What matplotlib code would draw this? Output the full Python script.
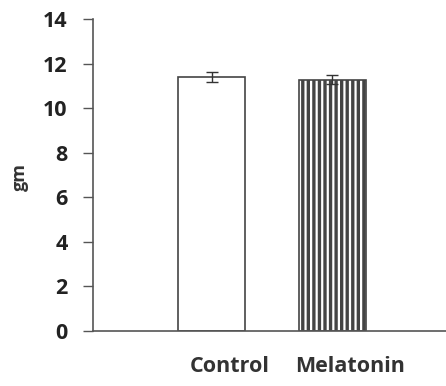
import matplotlib
matplotlib.use("Agg")
import matplotlib.pyplot as plt
import matplotlib.transforms as mtransforms
import numpy as np

categories = ["Control", "Melatonin"]
values = [11.4, 11.3]
errors = [0.22, 0.2]
yticks = [0, 2, 4, 6, 8, 10, 12, 14]

plt.rcParams['font.family'] = ['Open Sans', 'DejaVu Sans']
plt.rcParams['hatch.linewidth'] = 2.4
plt.rcParams['hatch.color'] = '#000000'

fig = plt.figure(figsize=(4.46, 3.86), dpi=100)
ax = fig.add_axes([0.2074, 0.1425, 0.7926, 0.807])

x = np.arange(len(categories))
hatches = ['', '|||']
for i in range(len(categories)):
    ax.bar(x[i], values[i], width=0.56, color='white', edgecolor='#444444',
           linewidth=1.2, hatch=hatches[i], zorder=2)
    ax.errorbar(x[i], values[i], yerr=errors[i], fmt='none', ecolor='#333333',
                elinewidth=1.0, capsize=4, capthick=1.0, zorder=3)

ax.set_xlim(-0.985, 1.94)
ax.set_ylim(0, 14)
ax.set_yticks(yticks)
ax.set_yticklabels([str(t) for t in yticks], fontsize=15.5, fontweight='bold', color='#222222')
ax.set_xticks(x)
ax.set_xticklabels(categories, fontsize=15.5, fontweight='bold', color='#333333')
ax.tick_params(axis='x', length=0, pad=18)
ax.tick_params(axis='y', length=7, width=1.0, color='#555555', pad=11, direction='out')
offset = mtransforms.ScaledTranslation(18/100, 0, fig.dpi_scale_trans)
for lab in ax.get_xticklabels():
    lab.set_transform(lab.get_transform() + offset)

for s in ['top', 'right']:
    ax.spines[s].set_visible(False)
for s in ['left', 'bottom']:
    ax.spines[s].set_color('#555555')
    ax.spines[s].set_linewidth(1.2)

ax.set_ylabel('gm', fontsize=13, fontweight='bold', color='#333333', va='center')
ax.yaxis.set_label_coords(-0.205, 0.494)

fig.savefig('out.png', dpi=100)
